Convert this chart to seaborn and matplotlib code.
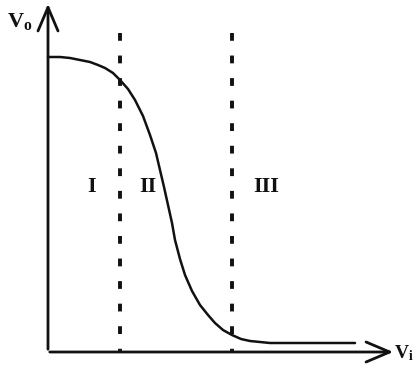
import numpy as np
import pandas as pd
import seaborn as sns
import matplotlib.pyplot as plt

# transfer curve (Vi, Vo in arbitrary units)
vi = [0, 12, 22, 32, 42, 50, 57, 65, 72, 80, 87, 95, 102, 108, 112, 116, 120,
      124, 127, 132, 137, 144, 152, 160, 167, 175, 184, 193, 202, 212, 222, 260, 307]
vo = [295, 295, 294, 292, 290, 287, 284, 279, 272, 263, 252, 236, 217, 199, 182,
      165, 147, 129, 112, 93, 77, 61, 47, 37, 29, 22, 17, 13, 11, 10, 9, 9, 9]
boundaries = [72, 184]
region_labels = ['I', 'II', 'III']
region_x = [44, 100, 218]

sns.set_style('white')
plt.rcParams['mathtext.fontset'] = 'custom'
plt.rcParams['mathtext.rm'] = 'Liberation Serif:bold'
plt.rcParams['mathtext.it'] = 'Liberation Serif:bold'

fig = plt.figure(figsize=(4.15, 3.73), dpi=100)
ax = fig.add_axes([0, 0, 1, 1])

df = pd.DataFrame({'Vi': vi, 'Vo': vo})
sns.lineplot(data=df, x='Vi', y='Vo', color='#111111', linewidth=1.8, ax=ax)

for b in boundaries:
    ax.plot([b, b], [319, 0], color='#111111', linewidth=2.8,
            linestyle=(0, (2.0, 3.8)))

serif = 'Liberation Serif'
for lab, x in zip(region_labels, region_x):
    ax.text(x, 165, lab, ha='center', va='center', fontsize=16,
            fontweight='bold', family=serif, color='#111111')

# axes with open arrow heads
arrow = dict(arrowstyle='->,head_length=1.7,head_width=0.72',
             color='#111111', lw=2)
ax.annotate('', xy=(0, 351), xytext=(0, 0), arrowprops=arrow)
ax.annotate('', xy=(348, 0), xytext=(-1, 0), arrowprops=arrow)

ax.text(-41, 331, r'$\mathrm{V_o}$', fontsize=16, ha='left', va='center',
        color='#111111')
ax.text(366, -1, r'$\mathrm{V_i}$', fontsize=14, ha='right', va='center',
        color='#111111')

ax.set_xlim(-48, 367)
ax.set_ylim(-21, 352)
ax.axis('off')

fig.savefig('out.png', dpi=100)
